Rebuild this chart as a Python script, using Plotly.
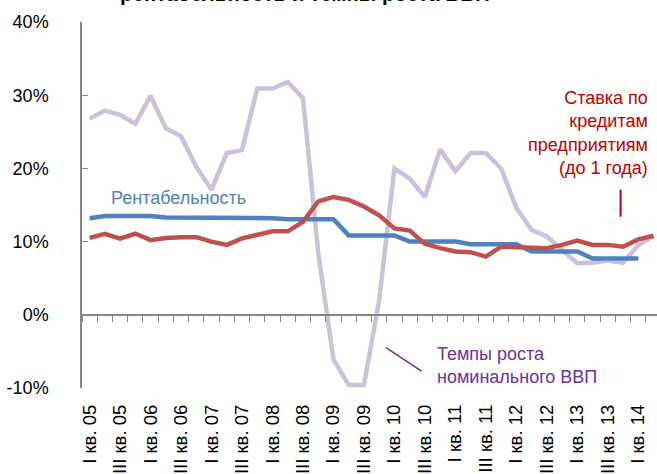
import plotly.graph_objects as go

# Кварталы: I кв. 05 ... II кв. 14
quarters = [
    "I кв. 05", "II кв. 05", "III кв. 05", "IV кв. 05",
    "I кв. 06", "II кв. 06", "III кв. 06", "IV кв. 06",
    "I кв. 07", "II кв. 07", "III кв. 07", "IV кв. 07",
    "I кв. 08", "II кв. 08", "III кв. 08", "IV кв. 08",
    "I кв. 09", "II кв. 09", "III кв. 09", "IV кв. 09",
    "I кв. 10", "II кв. 10", "III кв. 10", "IV кв. 10",
    "I кв. 11", "II кв. 11", "III кв. 11", "IV кв. 11",
    "I кв. 12", "II кв. 12", "III кв. 12", "IV кв. 12",
    "I кв. 13", "II кв. 13", "III кв. 13", "IV кв. 13",
    "I кв. 14", "II кв. 14",
]
tick_labels = quarters[::2]

# Темпы роста номинального ВВП, %
gdp = [26.8, 27.9, 27.3, 26.1, 29.9, 25.5, 24.4, 20.2, 17.1, 22.1,
       22.5, 30.9, 30.9, 31.8, 29.6, 8.5, -6.1, -9.6, -9.6, 2.0,
       20.0, 18.6, 16.1, 22.6, 19.6, 22.1, 22.1, 20.0, 14.6, 11.6,
       10.7, 8.8, 7.05, 7.1, 7.4, 7.1, 9.5, 10.8]

# Ставка по кредитам предприятиям (до 1 года), %
rate = [10.5, 11.05, 10.4, 11.1, 10.2, 10.5, 10.6, 10.6, 10.0, 9.55,
        10.45, 10.9, 11.4, 11.4, 12.7, 15.5, 16.1, 15.7, 14.8, 13.6,
        11.8, 11.5, 9.7, 9.1, 8.65, 8.55, 7.95, 9.3, 9.2, 9.2,
        9.1, 9.55, 10.15, 9.55, 9.55, 9.3, 10.3, 10.8]

# Рентабельность, %
profit = [13.2, 13.5, 13.5, 13.5, 13.5, 13.3, 13.3, 13.3, 13.3,
          13.2, 13.2, 13.2, 13.2, 13.05, 13.05, 13.05, 13.05,
          10.85, 10.85, 10.85, 10.85, 10.0, 10.0, 10.0, 10.0,
          9.65, 9.65, 9.65, 9.65, 8.65, 8.65, 8.65, 8.65,
          7.7, 7.7, 7.7, 7.7]

y_ticks = [-10, 0, 10, 20, 30, 40]

FONT = "Liberation Sans, Arial, sans-serif"
GRAY = "#868686"

fig = go.Figure()

fig.add_trace(go.Scatter(
    x=list(range(len(gdp))), y=gdp, mode='lines',
    line=dict(color='#CCC1DA', width=4.5), showlegend=False
))
fig.add_trace(go.Scatter(
    x=list(range(len(profit))), y=profit, mode='lines',
    line=dict(color='#4F81BD', width=4.5), showlegend=False
))
fig.add_trace(go.Scatter(
    x=list(range(len(rate))), y=rate, mode='lines',
    line=dict(color='#C0504D', width=4.5), showlegend=False
))
# пустой след для оси с делениями на нуле
fig.add_trace(go.Scatter(x=[], y=[], xaxis='x2', showlegend=False, hoverinfo='skip'))

x_range = [-0.5, 37.23]

fig.update_layout(
    width=657, height=474,
    margin=dict(l=82, r=0, t=22, b=86),
    paper_bgcolor='white', plot_bgcolor='white',
    font=dict(family=FONT, size=18, color='black'),
    xaxis=dict(
        range=x_range,
        tickvals=list(range(0, len(quarters), 2)),
        ticktext=tick_labels,
        tickangle=-90,
        showline=False, showgrid=False, zeroline=False, ticks='',
        ticklabelstandoff=12,
        tickfont=dict(size=18.5),
        automargin=False,
    ),
    xaxis2=dict(
        overlaying='x', anchor='free', position=0.2,
        range=x_range,
        tickvals=[i - 0.5 for i in range(len(quarters) + 1)],
        showticklabels=False,
        showline=True, linecolor=GRAY, linewidth=1.5,
        ticks='outside', ticklen=6, tickcolor=GRAY, tickwidth=1.2,
        showgrid=False, zeroline=False,
        automargin=False,
    ),
    yaxis=dict(
        range=[-10, 40],
        tickvals=y_ticks,
        ticktext=[f"{v}%" for v in y_ticks],
        showline=True, linecolor=GRAY, linewidth=1.5,
        ticks='inside', ticklen=6, tickcolor=GRAY, tickwidth=1.2,
        showgrid=False, zeroline=False,
        ticklabelstandoff=28,
        tickfont=dict(size=18),
        automargin=False,
    ),
)

# Подписи рядов
fig.add_annotation(
    x=1.3, y=15.9, xref='x', yref='y', text="Рентабельность",
    showarrow=False, xanchor='left', yanchor='middle',
    font=dict(color='#4F81BD', size=18)
)
fig.add_annotation(
    x=36.77, y=31.2, xref='x', yref='y',
    text="Ставка по<br>кредитам<br>предприятиям<br>(до 1 года)",
    showarrow=False, xanchor='right', yanchor='top', align='right',
    font=dict(color='#C00000', size=18)
)
fig.add_annotation(
    x=22.67, y=-6.96, xref='x', yref='y',
    text="Темпы роста<br>номинального ВВП",
    showarrow=False, xanchor='left', yanchor='middle', align='left',
    font=dict(color='#7030A0', size=18)
)
# Обрезанный заголовок сверху
fig.add_annotation(
    x=0.388, y=1.040, xref='paper', yref='paper',
    text="<b>рентабельность и темпы роста ВВП</b>",
    showarrow=False, xanchor='center', yanchor='bottom',
    font=dict(color='black', size=20.5)
)

# Выносные линии
fig.add_shape(type='line', xref='x', yref='y', x0=34.84, x1=34.84, y0=17.1, y1=13.4,
              line=dict(color='#C00000', width=2))
fig.add_shape(type='line', xref='x', yref='y', x0=19.45, x1=21.8, y0=-4.5, y1=-7.74,
              line=dict(color='#7030A0', width=1.5))

# без отступа у body, чтобы график начинался с края окна
fig.write_html("out.html", config={'displayModeBar': False},
               post_script="document.body.style.margin='0';")
